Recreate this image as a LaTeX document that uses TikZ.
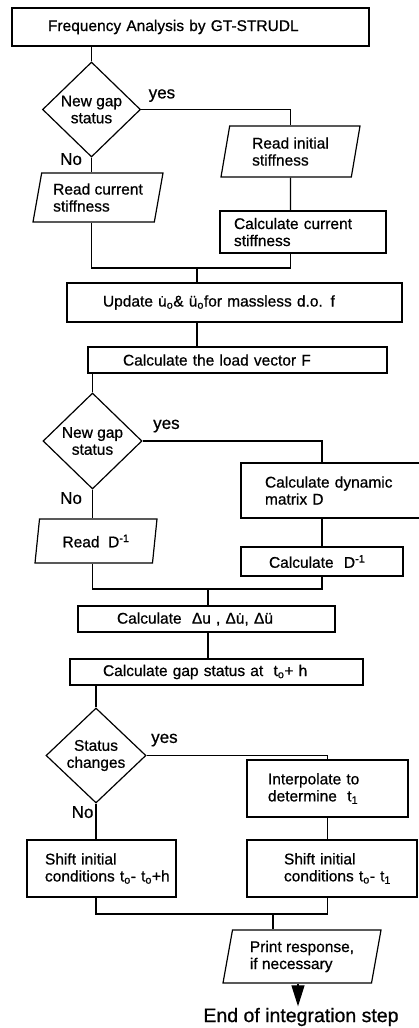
\documentclass[tikz,border=0pt]{standalone}
\usepackage{fontspec}
\setmainfont[FakeBold=0.7]{Liberation Sans}
\usetikzlibrary{shapes.geometric,arrows.meta}

\begin{document}
\begin{tikzpicture}[x=1pt, y=-1pt, line width=1.2pt,
    font=\fontsize{15.5}{17}\selectfont,
    box/.style ={draw, rectangle, align=left, inner ysep=2pt},
    decision/.style ={draw, diamond, aspect=1, inner sep=0pt, align=center},
    io/.style ={draw, trapezium, trapezium left angle=75, trapezium right angle=105,
        trapezium stretches body, align=left, inner sep=2pt},
    lbl/.style ={inner sep=0pt, font=\fontsize{17}{17}\selectfont}]
    \useasboundingbox (0,0) rectangle (419,1028);
    \node[box, inner xsep=36pt, text width=285pt, minimum height=38pt] (1) at (190.5,27) {Frequency Analysis by GT-STRUDL};
    \node[decision, minimum width=98pt, minimum height=95pt] (2) at (91.5,109.5) {New gap\\status};
    \node[io, minimum width=139pt, minimum height=51pt] (3) at (290.5,151.5) {Read initial\\stiffness};
    \node[io, minimum width=130pt, minimum height=49pt] (4) at (98,197.5) {Read current\\stiffness};
    \node[box, inner xsep=14pt, text width=138pt, minimum height=42pt] (5) at (303,232) {Calculate current\\stiffness};
    \node[box, inner xsep=36pt, text width=263pt, minimum height=39pt] (6) at (234.5,302.5) {Update \.{u}\textsubscript{o}\& \"{u}\textsubscript{o}for massless d.o. f};
    \node[box, inner xsep=35pt, text width=229pt, minimum height=26pt] (7) at (237.5,360) {Calculate the load vector F};
    \node[decision, minimum width=99pt, minimum height=96pt] (8) at (92.5,441) {New gap\\status};
    \node[box, inner xsep=24pt, text width=135pt, minimum height=55pt] (9) at (332.5,490.5) {Calculate dynamic\\matrix D};
    \node[io, minimum width=122pt, minimum height=44pt] (10) at (96,541) {Read~ D\textsuperscript{-1}};
    \node[box, inner xsep=28pt, text width=106pt, minimum height=29pt] (11) at (322,561.5) {Calculate~ D\textsuperscript{-1}};
    \node[box, inner xsep=39pt, text width=179pt, minimum height=26pt] (12) at (206.5,619) {Calculate~ Δu , Δ\.{u}, Δ\"{u}};
    \node[box, inner xsep=33pt, text width=227pt, minimum height=26pt] (13) at (216.5,672) {Calculate gap status at~ t\textsubscript{o}+ h};
    \node[decision, minimum width=100pt, minimum height=95pt] (14) at (96,755.5) {Status\\changes};
    \node[box, inner xsep=21pt, text width=119pt, minimum height=57pt] (15) at (327.5,788.5) {Interpolate to\\determine~ t\textsubscript{1}};
    \node[box, inner xsep=18pt, text width=113pt, minimum height=57pt] (16) at (101.5,868.5) {Shift initial\\\mbox{conditions t\textsubscript{o}- t\textsubscript{o}+h}};
    \node[box, inner xsep=37pt, text width=96pt, minimum height=57pt] (17) at (332,868.5) {Shift initial\\\mbox{conditions t\textsubscript{o}- t\textsubscript{1}}};
    \node[io, minimum width=158pt, minimum height=53pt] (18) at (302,956.5) {Print response,\\if necessary};
    \node[inner sep=1pt, font=\fontsize{19.5}{20}\selectfont] (19) at (301,1017) {End of integration step};
    \coordinate (j1) at (197,268);
    \coordinate (j2) at (208,589);
    \coordinate (j3) at (273,914);
    \node[lbl, anchor=south west] (y1) at ([xshift=7pt,yshift=7pt]2.east) {yes};
    \node[lbl, anchor=east] (n1) at ([xshift=-9pt,yshift=-1.5pt]2.south) {No};
    \node[lbl, anchor=south west] (y2) at ([xshift=10pt,yshift=8pt]8.east) {yes};
    \node[lbl, anchor=east] (n2) at ([xshift=-10pt,yshift=-8.5pt]8.south) {No};
    \node[lbl, anchor=south west] (y3) at ([xshift=4pt,yshift=8.5pt]14.east) {yes};
    \node[lbl, anchor=east] (n3) at ([xshift=-2pt,yshift=-8.5pt]14.south) {No};
    \draw (2.north |- 1.south) -- (2);
    \draw (2) -| (3);
    \draw (2) -- (2 |- 4.north);
    \draw (3) -- (3 |- 5.north);
    \draw (4.south -| 2) |- (j1) -| (5.south -| 3);
    \draw (j1) -- (j1 |- 6.north);
    \draw (6.south -| j1) -- (7.north -| j1);
    \draw (7.south -| 8) -- (8);
    \draw (8) -| (11.north |- 9.north);
    \draw (8) -- (8 |- 10.north);
    \draw (9.south -| 11) -- (11);
    \draw (10.south -| 8) |- (j2) -| (11);
    \draw (j2) -- (j2 |- 12.north);
    \draw (12.south -| j2) -- (13.north -| j2);
    \draw (13.south -| 14) -- (14);
    \draw (14) -| (15);
    \draw (14) -- (14 |- 16.north);
    \draw (15) -- (15 |- 17.north);
    \draw (16.south -| 14) |- (j3) -| (17.south -| 15);
    \draw (j3) -- (j3 |- 18.north);
    \draw[-{Triangle[length=21pt,width=13pt]}] ([xshift=-3pt]19.north |- 18.south) -- ([xshift=-3pt]19.north);
\end{tikzpicture}
\end{document}
